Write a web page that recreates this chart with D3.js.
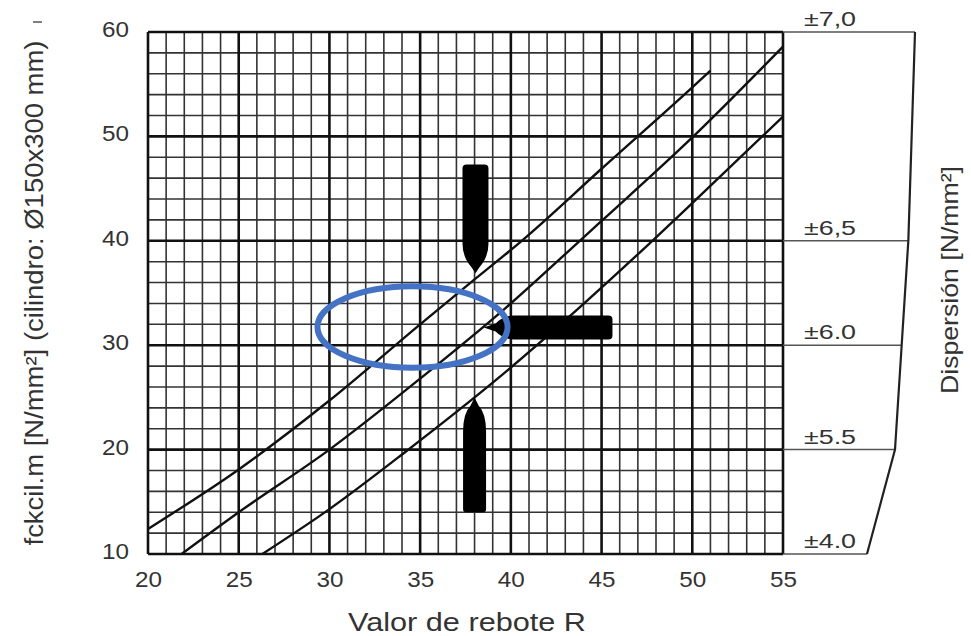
<!DOCTYPE html>
<html>
<head>
<meta charset="utf-8">
<script src="https://cdn.jsdelivr.net/npm/d3@7"></script>
<style>
  html, body { margin: 0; padding: 0; background: #fff; }
  svg { display: block; font-family: "Liberation Sans", Arial, sans-serif; }
</style>
</head>
<body>
<div id="chart"></div>
<script>
// ---- data ----
const xTicks = [20, 25, 30, 35, 40, 45, 50, 55];
const yTicks = [10, 20, 30, 40, 50, 60];

// three calibration curves: rebound value R -> fck (N/mm²)
const upperR = [20, 25, 30, 35, 38, 40.6, 45, 50, 51];
const upperF = [12.4, 18.1, 24.7, 32.0, 36.3, 40.0, 46.9, 54.7, 56.3];
const middleR = [21.85, 25, 30, 35, 39.8, 43.8, 45, 50, 55];
const middleF = [10, 14, 20, 26.8, 33.7, 40, 41.9, 49.9, 58.6];
const lowerR = [26.3, 30, 34.2, 39.2, 47.8, 50, 55];
const lowerF = [10, 14.3, 19.8, 26.7, 40, 43.6, 51.9];

// dispersion scale on the right
const dispLabels = ["±7,0", "±6,5", "±6.0", "±5.5", "±4.0"];
const dispValues = [7.0, 6.5, 6.0, 5.5, 4.0];
const dispLevels = [60, 40, 30, 20, 10];

// ---- layout ----
const W = 971, H = 636;
const pL = 148, pR = 783, pT = 32, pB = 554;
const FONT = "Liberation Sans, Arial, sans-serif";

const svg = d3.select("#chart").append("svg").attr("width", W).attr("height", H);

const x = d3.scaleLinear().domain([20, 55]).range([pL, pR]);
const y = d3.scaleLinear().domain([10, 60]).range([pB, pT]);
const dispX = d3.scaleLinear().domain([4, 5.5, 7]).range([pR + 84, pR + 112, pR + 132]);

// ---- grid ----
const g = svg.append("g");
const minorX = d3.range(20, 56, 1).filter(v => v % 5 !== 0);
const minorY = d3.range(10, 61, 2).filter(v => v % 10 !== 0);

g.selectAll(".vminor").data(minorX).join("line")
  .attr("x1", d => x(d)).attr("x2", d => x(d))
  .attr("y1", y(10)).attr("y2", y(60))
  .attr("stroke", "#333").attr("stroke-width", 1.6);
g.selectAll(".hminor").data(minorY).join("line")
  .attr("y1", d => y(d)).attr("y2", d => y(d))
  .attr("x1", x(20)).attr("x2", x(55))
  .attr("stroke", "#333").attr("stroke-width", 1.6);
g.selectAll(".vmajor").data(xTicks).join("line")
  .attr("x1", d => x(d)).attr("x2", d => x(d))
  .attr("y1", y(10)).attr("y2", y(60))
  .attr("stroke", "#111").attr("stroke-width", 2.6);
g.selectAll(".hmajor").data(yTicks).join("line")
  .attr("y1", d => y(d)).attr("y2", d => y(d))
  .attr("x1", x(20)).attr("x2", x(55))
  .attr("stroke", "#111").attr("stroke-width", 2.6);

// ---- axes (labels only) ----
const xAxis = svg.append("g").attr("transform", `translate(0,${pB + 9})`)
  .call(d3.axisBottom(x).tickValues(xTicks).tickSize(0).tickPadding(8));
xAxis.select(".domain").remove();
xAxis.selectAll("text").attr("font-size", 22).attr("fill", "#333")
  .attr("font-family", FONT).attr("textLength", 27).attr("lengthAdjust", "spacingAndGlyphs");

const yAxis = svg.append("g").attr("transform", `translate(${pL - 13},0)`)
  .call(d3.axisLeft(y).tickValues(yTicks).tickSize(0).tickPadding(6));
yAxis.select(".domain").remove();
yAxis.selectAll("text").attr("font-size", 22).attr("fill", "#333").attr("dy", "0.2em")
  .attr("font-family", FONT).attr("textLength", 27).attr("lengthAdjust", "spacingAndGlyphs");

// ---- curves ----
const line = d3.line().x(d => x(d[0])).y(d => y(d[1])).curve(d3.curveMonotoneX);
[[upperR, upperF], [middleR, middleF], [lowerR, lowerF]].forEach(([rs, fs]) => {
  svg.append("path")
    .datum(rs.map((r, i) => [r, fs[i]]))
    .attr("d", line).attr("fill", "none")
    .attr("stroke", "#111").attr("stroke-width", 2.4);
});

// ---- dispersion panel ----
const disp = svg.append("g");
disp.selectAll("line.lvl").data(dispLevels).join("line")
  .attr("x1", pR).attr("x2", (d, i) => dispX(dispValues[i]))
  .attr("y1", d => y(d)).attr("y2", d => y(d))
  .attr("stroke", "#555").attr("stroke-width", 1.5);
disp.append("path")
  .datum(dispLevels.map((f, i) => [dispX(dispValues[i]), y(f)]))
  .attr("d", d3.line())
  .attr("fill", "none").attr("stroke", "#222").attr("stroke-width", 2.2);
disp.selectAll("text").data(dispLabels).join("text")
  .attr("x", pR + 21).attr("y", (d, i) => y(dispLevels[i]) - 6)
  .attr("font-size", 20).attr("fill", "#333")
  .attr("textLength", 52).attr("lengthAdjust", "spacingAndGlyphs")
  .text(d => d);

// ---- hammer direction markers ----
const mk = svg.append("g").attr("fill", "#000");
// top (pointing down)
{
  const cx = x(38.05), tip = y(36.9), topY = y(47.3), w = 13;
  mk.append("path").attr("d",
    `M${cx},${tip} L${cx - 4},${tip - 6} Q${cx - w},${tip - 16} ${cx - w},${tip - 30}
     L${cx - w},${topY + 4} Q${cx - w},${topY} ${cx - w + 4},${topY}
     L${cx + w - 4},${topY} Q${cx + w},${topY} ${cx + w},${topY + 4}
     L${cx + w},${tip - 30} Q${cx + w},${tip - 16} ${cx + 4},${tip - 6} Z`);
}
// bottom (pointing up)
{
  const cx = x(38.0), tip = y(25.0), botY = y(14.0), w = 11.5;
  mk.append("path").attr("d",
    `M${cx},${tip} L${cx + 4},${tip + 8} Q${cx + w},${tip + 16} ${cx + w},${tip + 34}
     L${cx + w},${botY - 3} Q${cx + w},${botY} ${cx + w - 3},${botY}
     L${cx - w + 3},${botY} Q${cx - w},${botY} ${cx - w},${botY - 3}
     L${cx - w},${tip + 34} Q${cx - w},${tip + 16} ${cx - 4},${tip + 8} Z`);
}
// right (pointing left)
{
  const cy = y(31.7), tip = x(38.5), endX = x(45.6), h = 12;
  mk.append("path").attr("d",
    `M${tip},${cy} L${tip + 12},${cy - 4} Q${tip + 20},${cy - h} ${tip + 30},${cy - h}
     L${endX - 4},${cy - h} Q${endX},${cy - h} ${endX},${cy - h + 4}
     L${endX},${cy + h - 4} Q${endX},${cy + h} ${endX - 4},${cy + h}
     L${tip + 30},${cy + h} Q${tip + 20},${cy + h} ${tip + 12},${cy + 4} Z`);
}

// ---- blue highlight ellipse ----
const ell = { r: 34.58, f: 31.74, dr: 5.24, df: 3.9 };
svg.append("ellipse")
  .attr("cx", x(ell.r)).attr("cy", y(ell.f))
  .attr("rx", x(ell.r + ell.dr) - x(ell.r)).attr("ry", y(ell.f) - y(ell.f + ell.df))
  .attr("fill", "none").attr("stroke", "#4472C4").attr("stroke-width", 6);

// ---- titles ----
svg.append("text")
  .attr("x", 467).attr("y", 631)
  .attr("text-anchor", "middle").attr("font-size", 26).attr("fill", "#333")
  .attr("textLength", 238).attr("lengthAdjust", "spacingAndGlyphs")
  .text("Valor de rebote R");

svg.append("text")
  .attr("transform", `translate(43,293) rotate(-90)`)
  .attr("text-anchor", "middle").attr("font-size", 25).attr("fill", "#333")
  .attr("textLength", 505).attr("lengthAdjust", "spacingAndGlyphs")
  .text("fckcil.m [N/mm²] (cilindro: Ø150x300 mm)");

svg.append("text")
  .attr("transform", `translate(958,280) rotate(-90)`)
  .attr("text-anchor", "middle").attr("font-size", 24).attr("fill", "#333")
  .attr("textLength", 228).attr("lengthAdjust", "spacingAndGlyphs")
  .text("Dispersión [N/mm²]");

svg.append("line").attr("x1", 33).attr("x2", 42).attr("y1", 22).attr("y2", 22)
  .attr("stroke", "#555").attr("stroke-width", 1.5);
</script>
</body>
</html>
